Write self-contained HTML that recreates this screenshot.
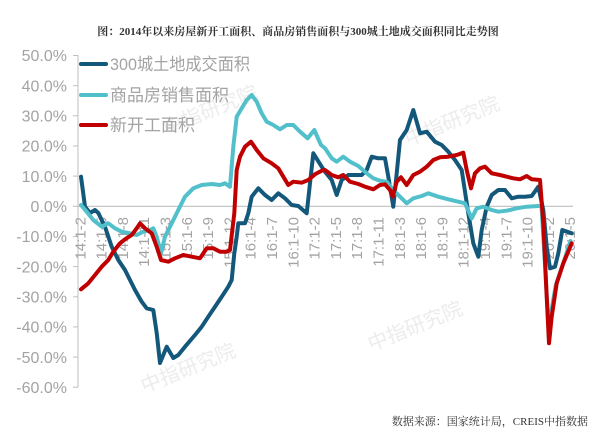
<!DOCTYPE html>
<html>
<head>
<meta charset="utf-8">
<style>
html,body{margin:0;padding:0;background:#fff;}
svg{display:block;}
</style>
</head>
<body>
<svg width="600" height="436" viewBox="0 0 600 436" xmlns="http://www.w3.org/2000/svg">
<rect width="600" height="436" fill="#ffffff"/>

<!-- title -->
<text x="298" y="35" text-anchor="middle" font-family="'Liberation Serif','Noto Serif CJK SC',serif" font-weight="bold" font-size="11" fill="#333">图：2014年以来房屋新开工面积、商品房销售面积与300城土地成交面积同比走势图</text>

<!-- watermarks -->
<g font-family="'Liberation Sans','Noto Sans CJK SC',sans-serif" font-size="20" fill="#ececec">
  <text transform="translate(210,110) rotate(-22)" text-anchor="middle" dy="7">中指研究院</text>
  <text transform="translate(188,368) rotate(-22)" text-anchor="middle" dy="7">中指研究院</text>
  <text transform="translate(415,326) rotate(-22)" text-anchor="middle" dy="7">中指研究院</text>
  <text transform="translate(452,121) rotate(-22)" text-anchor="middle" dy="7">中指研究院</text>
</g>

<!-- axes -->
<line x1="78" y1="55.5" x2="78" y2="387.5" stroke="#bfbfbf" stroke-width="1"/>
<line x1="78" y1="206.3" x2="573" y2="206.3" stroke="#bfbfbf" stroke-width="1.2"/>
<g stroke="#bfbfbf" stroke-width="1">
  <line x1="73" y1="55.5" x2="78" y2="55.5"/>
  <line x1="73" y1="85.7" x2="78" y2="85.7"/>
  <line x1="73" y1="115.8" x2="78" y2="115.8"/>
  <line x1="73" y1="146.0" x2="78" y2="146.0"/>
  <line x1="73" y1="176.1" x2="78" y2="176.1"/>
  <line x1="73" y1="206.3" x2="78" y2="206.3"/>
  <line x1="73" y1="236.5" x2="78" y2="236.5"/>
  <line x1="73" y1="266.6" x2="78" y2="266.6"/>
  <line x1="73" y1="296.8" x2="78" y2="296.8"/>
  <line x1="73" y1="326.9" x2="78" y2="326.9"/>
  <line x1="73" y1="357.1" x2="78" y2="357.1"/>
  <line x1="73" y1="387.2" x2="78" y2="387.2"/>
</g>

<!-- y labels -->
<g font-family="'Liberation Sans',sans-serif" font-size="16" fill="#a3a3a3" text-anchor="end">
  <text x="67" y="61.2">50.0%</text>
  <text x="67" y="91.4">40.0%</text>
  <text x="67" y="121.5">30.0%</text>
  <text x="67" y="151.7">20.0%</text>
  <text x="67" y="181.8">10.0%</text>
  <text x="67" y="212.0">0.0%</text>
  <text x="67" y="242.2">-10.0%</text>
  <text x="67" y="272.3">-20.0%</text>
  <text x="67" y="302.5">-30.0%</text>
  <text x="67" y="332.6">-40.0%</text>
  <text x="67" y="362.8">-50.0%</text>
  <text x="67" y="392.9">-60.0%</text>
</g>

<!-- x labels -->
<g font-family="'Liberation Sans',sans-serif" font-size="15" fill="#a3a3a3" text-anchor="end">
  <text transform="translate(80.0,217) rotate(-90)" dy="5.3">14:1-2</text>
  <text transform="translate(101.3,217) rotate(-90)" dy="5.3">14:1-5</text>
  <text transform="translate(122.6,217) rotate(-90)" dy="5.3">14:1-8</text>
  <text transform="translate(143.9,217) rotate(-90)" dy="5.3">14:1-11</text>
  <text transform="translate(165.2,217) rotate(-90)" dy="5.3">15:1-3</text>
  <text transform="translate(186.5,217) rotate(-90)" dy="5.3">15:1-6</text>
  <text transform="translate(207.8,217) rotate(-90)" dy="5.3">15:1-9</text>
  <text transform="translate(229.1,217) rotate(-90)" dy="5.3">15:1-12</text>
  <text transform="translate(250.4,217) rotate(-90)" dy="5.3">16:1-4</text>
  <text transform="translate(271.7,217) rotate(-90)" dy="5.3">16:1-7</text>
  <text transform="translate(293.0,217) rotate(-90)" dy="5.3">16:1-10</text>
  <text transform="translate(314.3,217) rotate(-90)" dy="5.3">17:1-2</text>
  <text transform="translate(335.6,217) rotate(-90)" dy="5.3">17:1-5</text>
  <text transform="translate(356.9,217) rotate(-90)" dy="5.3">17:1-8</text>
  <text transform="translate(378.2,217) rotate(-90)" dy="5.3">17:1-11</text>
  <text transform="translate(399.5,217) rotate(-90)" dy="5.3">18:1-3</text>
  <text transform="translate(420.8,217) rotate(-90)" dy="5.3">18:1-6</text>
  <text transform="translate(442.1,217) rotate(-90)" dy="5.3">18:1-9</text>
  <text transform="translate(463.4,217) rotate(-90)" dy="5.3">18:1-12</text>
  <text transform="translate(484.7,217) rotate(-90)" dy="5.3">19:1-4</text>
  <text transform="translate(506.0,217) rotate(-90)" dy="5.3">19:1-7</text>
  <text transform="translate(527.3,217) rotate(-90)" dy="5.3">19:1-10</text>
  <text transform="translate(548.6,217) rotate(-90)" dy="5.3">20:1-2</text>
  <text transform="translate(569.9,217) rotate(-90)" dy="5.3">20:1-5</text>
</g>

<!-- series -->
<g fill="none" stroke-width="4" stroke-linejoin="round" stroke-linecap="round">
  <polyline stroke="#13587a" points="81,176.7 85,206.7 90,213 95,210 98.3,213 105,226.7 111.7,246.7 118.3,260 125,270 130,280 135,290 141.7,301.7 146.7,308.3 153.3,310 156.7,333 160,363 166.7,346.7 173.3,358 178.3,355 185,346.7 195,335 201.7,326.7 208.3,316.7 215,306.7 221.7,296.7 228.3,286.7 231.7,280 234.3,253.3 236.7,236.7 238.3,223.3 245,223.3 248.3,213.3 251.7,196.7 258.3,188.3 265,195 271.7,200 278.3,193.3 285,198.3 291.7,205 298.3,206 306.7,213.3 313.3,153.3 321.7,166.7 325,171.7 331.7,180 336.7,195 341.7,180 348.3,175 355,175 361.7,175 366.7,170 371.7,156.7 378.3,158.3 385,158.3 388.3,176.7 393.3,206.7 396.7,173.3 400,140 406.7,130 413.3,110 420,133.3 426.7,131.7 435,141.7 441.7,145 448.3,151.7 455,160 461.7,170 468.3,213.3 473.3,243.3 478.3,256.7 481.7,230 486.7,206.7 491.7,195 498.3,190 505,190 511.7,198.3 518.3,196.7 525,196.7 531.7,196 538.3,186.7 543.3,210 546.7,246.7 550,268.3 555,266.7 558.3,253.3 562.3,230 571.7,233.3"/>
  <polyline stroke="#52c0cb" points="81,205 86.7,211.7 93.3,220 101.7,226.7 108.3,223.3 115,228.3 121.7,231.7 130,233.3 136.7,235 143.3,231.7 150,230 153.3,228.3 156.7,236.7 161,253.3 165,236.7 171.7,223.3 178.3,210 185,196.7 193.3,188.3 201.7,185 211.7,184 220,185 225,183.3 230,186.7 233.3,146.7 236.7,116.7 241.7,108.3 246.7,100 251.7,95 256.7,101.7 261.7,113.3 266.7,121.7 273.3,125 280,129.3 286.7,125 293.3,125 300,131.7 307.7,138.3 314.3,130 321,145 325,148.3 331.7,158.3 336.7,161.7 343.3,156.7 350,161.7 358.3,166 366.7,173.3 373.3,178.3 380,180.7 386.7,181.7 393.3,190 400,196.7 406.7,203.3 413.3,198.3 421.7,196 428.3,193.3 438.3,196.7 448.3,199.3 458.3,201.7 465,203.3 471.7,218.3 476.7,208.3 483.3,206.7 491.7,210 498.3,211.7 506.7,210.7 516.7,208.3 526.7,206.7 538.3,206 541.5,206 548.6,327 555.7,285.5 562.8,264.5 570.5,241"/>
  <polyline stroke="#c00000" points="81,289.3 88.3,283.3 95,275 101.7,266.7 108.3,260 113.3,251.7 120,243.3 125,239.3 131.7,235 136.7,228.3 140,223.3 145,228.3 151.7,233.3 156.7,246.7 161,260 168.3,261.7 175,258.3 183.3,255 191.7,256.7 200,258.3 206.7,248.3 213.3,248.3 220,251.7 226.7,251.7 230,250 234.3,213.3 236.7,170 240,156.7 245,146.7 251,141.7 256.7,150 263.3,158.3 271.7,163.3 278.3,168.3 283.3,176.7 288.3,185 293.3,181.7 301.7,182.7 308.3,180 315,174.3 321.7,170.7 325,170 331.7,175 338.3,177.3 343.3,175 350,181.7 358.3,184 365,186.7 373.3,189.3 380,185 385,184.3 390,190 392.7,196.7 396.7,181.7 401,177.3 406.7,185 413.3,175 420,171.7 426.7,166.7 433.3,160 440,157.3 448.3,156.7 456.7,155 463.3,152.7 466.7,170 471,188.3 475,173.3 480,168.3 485,166.7 491.7,173.3 500,175 506.7,176.7 513.3,178.3 520,179.3 526.7,176 531.7,179.3 540,180 543.3,223.3 546.7,296.7 549,343.3 551.7,316.7 556.7,283.3 563.3,263.3 571.7,243.3"/>
</g>

<!-- legend -->
<g stroke-width="4" stroke-linecap="round">
  <line x1="81" y1="64" x2="106" y2="64" stroke="#13587a"/>
  <line x1="81" y1="95" x2="106" y2="95" stroke="#52c0cb"/>
  <line x1="81" y1="125" x2="106" y2="125" stroke="#c00000"/>
</g>
<g font-family="'Liberation Sans','Noto Sans CJK SC',sans-serif" font-size="17" fill="#a3a3a3">
  <text x="110" y="70" textLength="140" lengthAdjust="spacingAndGlyphs">300城土地成交面积</text>
  <text x="110" y="101">商品房销售面积</text>
  <text x="110" y="131">新开工面积</text>
</g>

<!-- footer -->
<text x="588" y="425" text-anchor="end" font-family="'Liberation Serif','Noto Serif CJK SC',serif" font-size="11" fill="#333">数据来源：国家统计局，CREIS中指数据</text>
</svg>
</body>
</html>
